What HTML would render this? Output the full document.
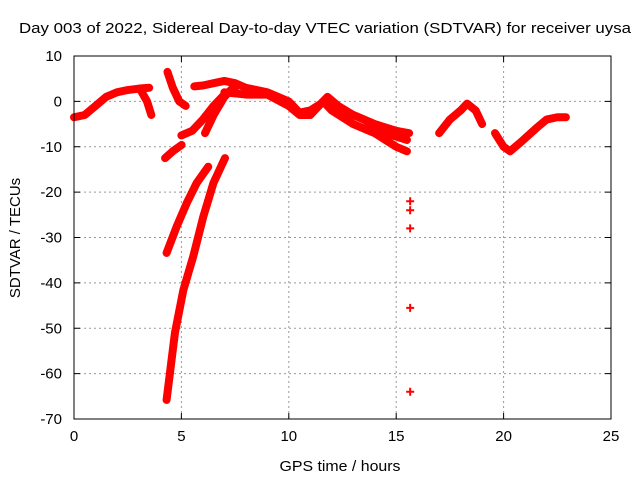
<!DOCTYPE html>
<html><head><meta charset="utf-8"><style>
body{margin:0;background:#fff}
svg{display:block;font-family:"Liberation Sans",sans-serif}
</style></head><body>
<svg id="chart" width="640" height="480">
<text x="325" y="33" text-anchor="middle" font-size="15" textLength="612" lengthAdjust="spacingAndGlyphs">Day 003 of 2022, Sidereal Day-to-day VTEC variation (SDTVAR) for receiver uysa</text>
<text x="340" y="471" text-anchor="middle" font-size="15" textLength="121" lengthAdjust="spacingAndGlyphs">GPS time / hours</text>
<text transform="translate(20,238) rotate(-90)" text-anchor="middle" font-size="15">SDTVAR / TECUs</text>
<g id="grid"></g><g id="marks"></g><g id="axes"></g>
</svg>
<script>
const xTicks=[0,5,10,15,20,25];
const yTicks=[10,0,-10,-20,-30,-40,-50,-60,-70];
const trackA=[[0,-3.5],[0.5,-3],[1,-1],[1.5,1],[2,2],[2.5,2.5],[3,2.8],[3.5,3]];
const trackA2=[[3.1,2.5],[3.4,0],[3.6,-3]];
const trackB=[[4.35,6.5],[4.6,3],[4.9,0],[5.2,-1]];
const trackC=[[4.24,-12.5],[4.6,-11],[5.01,-9.6]];
const trackD=[[4.31,-33.4],[4.78,-27.6],[5.25,-22.4],[5.71,-18],[6.25,-14.4]];
const trackE=[[4.31,-65.8],[4.7,-51],[5.09,-41.6],[5.55,-34.2],[6.02,-25.4],[6.49,-18],[7.03,-12.5]];
const trackF=[[5,-7.5],[5.5,-6.5],[6,-4],[6.5,-1],[7,1.5],[7.5,3]];
const trackG=[[6.1,-7],[6.5,-3],[7,1],[7.5,3.5]];
const trackH=[[5.6,3.3],[6,3.5],[6.5,4],[7,4.5],[7.5,4],[8,3],[9,2],[10,0],[10.5,-2.5],[11,-2],[11.5,-0.5],[11.8,1],[12.3,-1],[13,-3],[14,-5],[15,-6.5],[15.6,-7]];
const trackI=[[7,2],[8,1.5],[9,1.5],[10,-1],[10.5,-3],[11,-3],[11.6,0],[12,-2],[13,-5],[14,-7],[15,-10],[15.5,-11]];
const trackJ=[[11.8,0],[12.5,-2],[13.5,-4],[14.5,-7],[15.5,-8.5]];
const trackK=[[17,-7],[17.5,-4],[18,-2],[18.3,-0.5],[18.7,-2],[19,-5]];
const trackL=[[19.6,-7],[20,-10],[20.3,-11],[20.8,-9],[21.5,-6],[22,-4],[22.5,-3.5],[22.9,-3.5]];
const outliers=[[15.65,-22],[15.65,-24],[15.65,-28],[15.65,-45.5],[15.65,-64]];
const tracks=[trackA,trackA2,trackB,trackC,trackD,trackE,trackF,trackG,trackH,trackI,trackJ,trackK,trackL];
const X0=74,X1=611,Y0=56,Y1=419;
const xs=h=>X0+(h/25)*(X1-X0);
const ys=v=>Y0+(10-v)/80*(Y1-Y0);
const NS="http://www.w3.org/2000/svg";
function mk(t,p,a){const e=document.createElementNS(NS,t);for(const k in a)e.setAttribute(k,a[k]);p.appendChild(e);return e;}
const grid=document.getElementById('grid'),axes=document.getElementById('axes'),marks=document.getElementById('marks');
xTicks.forEach(t=>{
 if(t>0&&t<25){const g=mk('line',grid,{x1:xs(t),x2:xs(t),y1:Y0,y2:Y1,stroke:'#999','stroke-dasharray':'2,3'});
 
 }
 const l=mk('text',axes,{x:xs(t),y:Y1+22,'text-anchor':'middle','font-size':15});l.textContent=t;
 
 
 mk('line',axes,{x1:xs(t),x2:xs(t),y1:Y1,y2:Y1-6,stroke:'#000'});
 mk('line',axes,{x1:xs(t),x2:xs(t),y1:Y0,y2:Y0+6,stroke:'#000'});
});
yTicks.forEach(t=>{
 if(t<10&&t>-70){const g=mk('line',grid,{x1:X0,x2:X1,y1:ys(t),y2:ys(t),stroke:'#999','stroke-dasharray':'2,3'});
 
 }
 const l=mk('text',axes,{x:X0-12,y:ys(t)+5,'text-anchor':'end','font-size':15});l.textContent=t;
 
 
 mk('line',axes,{x1:X0,x2:X0+6,y1:ys(t),y2:ys(t),stroke:'#000'});
 mk('line',axes,{x1:X1,x2:X1-6,y1:ys(t),y2:ys(t),stroke:'#000'});
});
const fr=mk('rect',axes,{x:X0,y:Y0,width:X1-X0,height:Y1-Y0,fill:'none',stroke:'#000'});


tracks.forEach(tr=>{
 const p=mk('polyline',marks,{points:tr.map(d=>xs(d[0])+','+ys(d[1])).join(' '),fill:'none',stroke:'#f00','stroke-width':8,'stroke-linejoin':'round','stroke-linecap':'round'});
 
 
});
outliers.forEach(d=>{
 const g=mk('path',marks,{d:`M${xs(d[0])-4},${ys(d[1])}h8M${xs(d[0])},${ys(d[1])-4}v8`,stroke:'#f00','stroke-width':2});
 
 
});
</script>
</body></html>
